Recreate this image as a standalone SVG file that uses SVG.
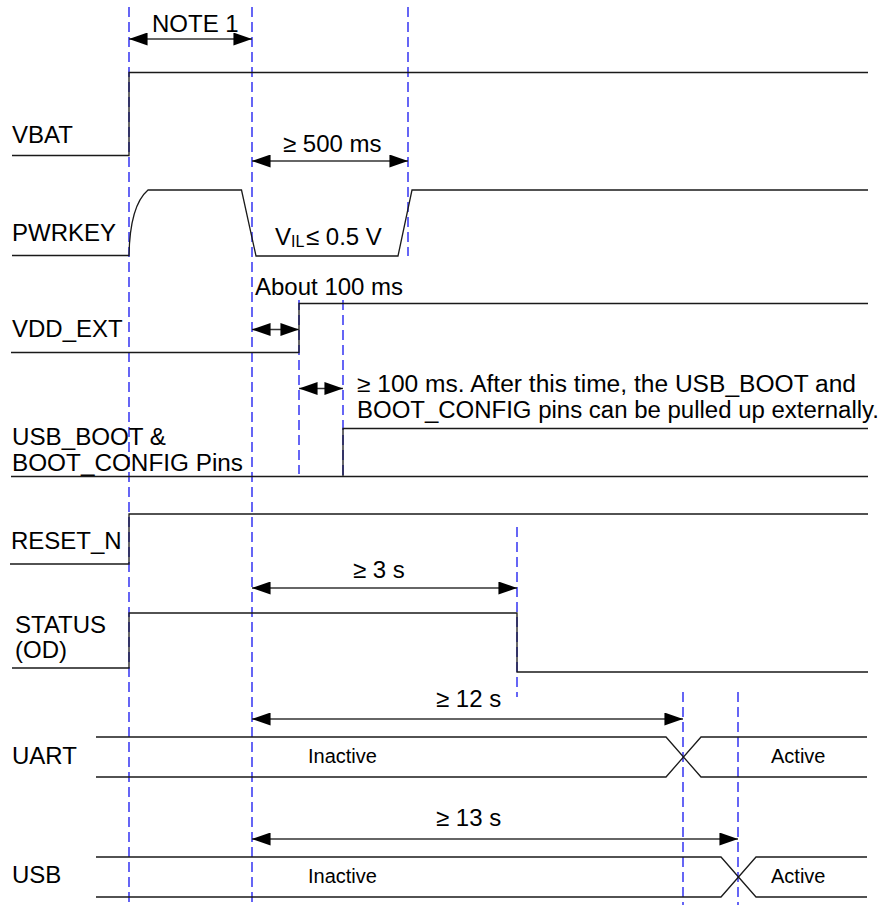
<svg xmlns="http://www.w3.org/2000/svg" width="893" height="907" viewBox="0 0 893 907">
<style>
  text { font-family: "Liberation Sans", Arial, sans-serif; font-size: 24px; fill: #000; }
  .sm { font-size: 20px; }
  .two { font-size: 23px; }
  .sig { fill: none; stroke: #1a1a1a; stroke-width: 1.3; }
  .guide { fill: none; stroke: #0000ee; stroke-width: 1.2; stroke-dasharray: 10 5; }
  .dim { fill: none; stroke: #333; stroke-width: 1.3; marker-start: url(#ah); marker-end: url(#ah); }
</style>
<defs>
  <marker id="ah" viewBox="0 0 20 14" refX="20" refY="7" markerWidth="20" markerHeight="13" markerUnits="userSpaceOnUse" orient="auto-start-reverse">
    <path d="M0,0 L20,7 L0,14 z" fill="#000"/>
  </marker>
</defs>

<g id="guides">
  <line class="guide" x1="129" y1="7" x2="129" y2="905"/>
  <line class="guide" x1="252" y1="7" x2="252" y2="905"/>
  <line class="guide" x1="408" y1="7" x2="408" y2="256"/>
  <line class="guide" x1="299" y1="300" x2="299" y2="474"/>
  <line class="guide" x1="343" y1="300" x2="343" y2="477"/>
  <line class="guide" x1="517" y1="527" x2="517" y2="697"/>
  <line class="guide" x1="683" y1="692" x2="683" y2="905"/>
  <line class="guide" x1="738" y1="692" x2="738" y2="905"/>
</g>

<g id="vbat">
  <text x="12" y="143">VBAT</text>
  <path class="sig" d="M12,155.5 H129 V72.5 H868"/>
</g>

<g id="pwrkey">
  <text x="12" y="241">PWRKEY</text>
  <path class="sig" d="M12,255.5 H129 C129.5,228 134,202 148,190 H241.5 L256,256 H398 L412,190 H868"/>
  <text x="275" y="245">V<tspan x="291" y="247" font-size="16">IL</tspan><tspan x="306" y="245">≤ 0.5 V</tspan></text>
</g>

<g id="vdd_ext">
  <text x="12" y="337">VDD_EXT</text>
  <path class="sig" d="M11,352.5 H299 V303.5 H868"/>
</g>

<g id="usb_boot">
  <text class="two" x="12" y="445" textLength="154" lengthAdjust="spacingAndGlyphs">USB_BOOT &amp;</text>
  <text class="two" x="12" y="471" textLength="231" lengthAdjust="spacingAndGlyphs">BOOT_CONFIG Pins</text>
  <path class="sig" d="M11,476.5 H868"/>
  <path class="sig" d="M343,476.5 V428.5 H868"/>
  <text class="two" x="357" y="392" textLength="499" lengthAdjust="spacingAndGlyphs">≥ 100 ms. After this time, the USB_BOOT and</text>
  <text class="two" x="357" y="418" textLength="522" lengthAdjust="spacingAndGlyphs">BOOT_CONFIG pins can be pulled up externally.</text>
</g>

<g id="reset_n">
  <text x="11" y="549">RESET_N</text>
  <path class="sig" d="M10,564 H129 V514 H868"/>
</g>

<g id="status">
  <text x="15" y="633">STATUS</text>
  <text x="15" y="658">(OD)</text>
  <path class="sig" d="M12,668 H129 V613 H517 V672 H868"/>
</g>

<g id="uart">
  <text x="12" y="764">UART</text>
  <path class="sig" d="M96,737 H666 L701,777 H867 M96,777 H666 L701,737 H867"/>
  <text class="sm" x="308" y="763">Inactive</text>
  <text class="sm" x="771" y="763">Active</text>
</g>

<g id="usb">
  <text x="12" y="883">USB</text>
  <path class="sig" d="M96,857 H721 L756,897 H867 M96,897 H721 L756,857 H867"/>
  <text class="sm" x="308" y="883">Inactive</text>
  <text class="sm" x="771" y="883">Active</text>
</g>

<g id="connectors">
  <line class="dim" x1="129" y1="39" x2="252" y2="39"/>
  <text x="152" y="32">NOTE 1</text>
  <line class="dim" x1="252" y1="161" x2="408" y2="161"/>
  <text x="283" y="152">≥ 500 ms</text>
  <line class="dim" x1="252" y1="329.5" x2="299" y2="329.5"/>
  <text x="255" y="295">About 100 ms</text>
  <line class="dim" x1="299" y1="388.5" x2="343" y2="388.5"/>
  <line class="dim" x1="252" y1="588" x2="517" y2="588"/>
  <text x="353" y="578">≥ 3 s</text>
  <line class="dim" x1="252" y1="719" x2="683" y2="719"/>
  <text x="436" y="707">≥ 12 s</text>
  <line class="dim" x1="252" y1="839" x2="738" y2="839"/>
  <text x="436" y="826">≥ 13 s</text>
</g>
</svg>
